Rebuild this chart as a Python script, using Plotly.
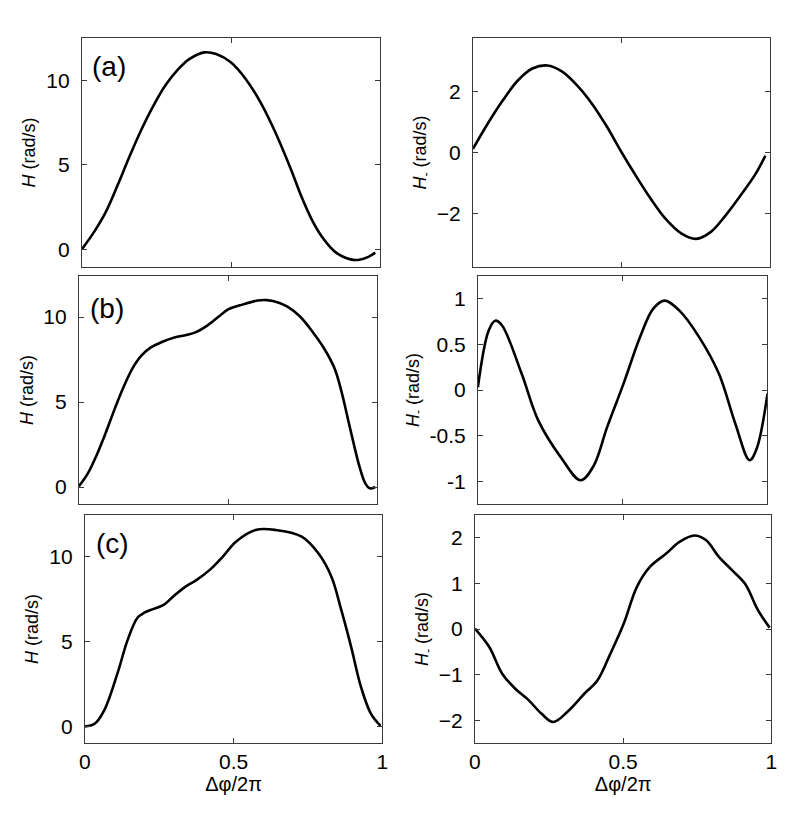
import plotly.graph_objects as go

# ---------------- data ----------------
# Panel (a) left: H
xa_H = [0.0, 0.04, 0.08, 0.12, 0.16, 0.2, 0.24, 0.28, 0.32, 0.36, 0.41, 0.45, 0.5, 0.55, 0.6, 0.65, 0.7, 0.736, 0.769, 0.802, 0.846, 0.87, 0.9, 0.93, 0.96, 0.983]
ya_H = [0.0, 1.0, 2.2, 3.8, 5.5, 7.1, 8.5, 9.7, 10.6, 11.25, 11.65, 11.55, 11.05, 10.05, 8.65, 6.85, 4.75, 3.1, 1.8, 0.8, -0.12, -0.4, -0.6, -0.62, -0.45, -0.2]
# Panel (a) right: H_
xa_Hm = [0.0, 0.05, 0.1, 0.15, 0.2, 0.25, 0.3, 0.35, 0.4, 0.45, 0.5, 0.55, 0.6, 0.65, 0.7, 0.75, 0.8, 0.85, 0.9, 0.95, 0.983]
ya_Hm = [0.12, 0.95, 1.7, 2.35, 2.75, 2.85, 2.65, 2.2, 1.6, 0.85, 0.0, -0.8, -1.55, -2.2, -2.65, -2.83, -2.6, -2.05, -1.4, -0.7, -0.1]
# Panel (b) left: H
xb_H = [0.0, 0.03, 0.06, 0.09, 0.12, 0.15, 0.18, 0.21, 0.24, 0.28, 0.32, 0.36, 0.39, 0.43, 0.47, 0.5, 0.55, 0.6, 0.63, 0.67, 0.7, 0.74, 0.78, 0.82, 0.856, 0.88, 0.9, 0.92, 0.94, 0.96, 0.975, 0.993]
yb_H = [0.04, 0.8, 1.9, 3.2, 4.6, 5.9, 7.0, 7.75, 8.2, 8.55, 8.8, 8.95, 9.1, 9.5, 10.05, 10.45, 10.75, 10.98, 11.0, 10.85, 10.6, 10.05, 9.2, 8.2, 7.0, 5.6, 4.1, 2.6, 1.2, 0.2, -0.08, 0.0]
# Panel (b) right: H_
xb_Hm = [0.0, 0.037, 0.06, 0.083, 0.151, 0.208, 0.287, 0.355, 0.4, 0.446, 0.503, 0.56, 0.605, 0.645, 0.696, 0.764, 0.832, 0.889, 0.938, 0.963, 1.0]
yb_Hm = [0.03, 0.65, 0.76, 0.71, 0.18, -0.33, -0.74, -0.99, -0.83, -0.41, 0.07, 0.58, 0.89, 0.98, 0.87, 0.58, 0.18, -0.37, -0.77, -0.64, -0.04]
# Panel (c) left: H
xc_H = [0.0, 0.033, 0.066, 0.11, 0.144, 0.177, 0.2, 0.221, 0.265, 0.3, 0.34, 0.376, 0.42, 0.464, 0.508, 0.574, 0.641, 0.729, 0.785, 0.829, 0.862, 0.895, 0.928, 0.961, 0.994]
yc_H = [0.0, 0.16, 0.98, 3.14, 5.1, 6.4, 6.7, 6.86, 7.16, 7.7, 8.25, 8.63, 9.22, 10.0, 10.88, 11.57, 11.57, 11.18, 10.2, 8.82, 6.86, 4.7, 2.35, 0.78, 0.04]
# Panel (c) right: H_
xc_Hm = [0.0, 0.048, 0.092, 0.136, 0.181, 0.225, 0.264, 0.313, 0.369, 0.413, 0.457, 0.502, 0.546, 0.59, 0.646, 0.69, 0.74, 0.779, 0.823, 0.867, 0.911, 0.955, 0.994]
yc_Hm = [0.01, -0.39, -0.98, -1.31, -1.56, -1.86, -2.04, -1.81, -1.42, -1.13, -0.54, 0.12, 0.92, 1.36, 1.66, 1.91, 2.05, 1.95, 1.58, 1.29, 0.99, 0.41, 0.03]

x_ticks = [0, 0.5, 1]
x_ticklabels = ["0", "0.5", "1"]
H_ticks = [0, 5, 10]
Hm_ticks_a = [-2, 0, 2]
Hm_ticks_b = [-1, -0.5, 0, 0.5, 1]
Hm_ticklabels_b = ["-1", "-0.5", "0", "0.5", "1"]
Hm_ticks_c = [-2, -1, 0, 1, 2]
panel_labels = ["(a)", "(b)", "(c)"]
ytitle_H = "<i>H</i> (rad/s)"
ytitle_Hm = "<i>H</i><sub>-</sub> (rad/s)"
xtitle = "Δφ/2π"

W, Hh = 806, 817
FONT = "Liberation Sans, Arial, Helvetica, sans-serif"
FRAME = "#3a3a3a"

def px_dom_x(a, b):
    return [a / W, b / W]

def px_dom_y(top, bottom):
    return [1 - bottom / Hh, 1 - top / Hh]

panels = [
    (xa_H, ya_H, px_dom_x(77, 380), px_dom_y(38, 267), [-1.05, 12.5], H_ticks, None, ytitle_H, False),
    (xa_Hm, ya_Hm, px_dom_x(474, 776), px_dom_y(38, 267), [-3.75, 3.75], Hm_ticks_a, None, ytitle_Hm, False),
    (xb_H, yb_H, px_dom_x(74, 377), px_dom_y(276, 504), [-1.0, 12.42], H_ticks, None, ytitle_H, False),
    (xb_Hm, yb_Hm, px_dom_x(479, 773), px_dom_y(276, 504), [-1.25, 1.25], Hm_ticks_b, Hm_ticklabels_b, ytitle_Hm, False),
    (xc_H, yc_H, px_dom_x(80, 382), px_dom_y(515, 743), [-0.97, 12.45], H_ticks, None, ytitle_H, True),
    (xc_Hm, yc_Hm, px_dom_x(476, 777), px_dom_y(515, 743), [-2.5, 2.5], Hm_ticks_c, None, ytitle_Hm, True),
]

fig = go.Figure()
layout = dict(
    width=W, height=Hh,
    margin=dict(l=0, r=0, t=0, b=0),
    paper_bgcolor="white", plot_bgcolor="white",
    showlegend=False,
    font=dict(family=FONT, size=18, color="black"),
)
annotations = []
for i, (xs, ys, xd, yd, yr, yt, ytl, ytitle, showx) in enumerate(panels, start=1):
    xn = "x" if i == 1 else f"x{i}"
    yn = "y" if i == 1 else f"y{i}"
    fig.add_trace(go.Scatter(x=xs, y=ys, mode="lines", xaxis=xn, yaxis=yn,
                             line=dict(color="black", width=2.6, shape="spline", smoothing=1.0),
                             hoverinfo="skip"))
    xkey = "xaxis" if i == 1 else f"xaxis{i}"
    ykey = "yaxis" if i == 1 else f"yaxis{i}"
    xa = dict(domain=xd, anchor=yn, range=[0, 1], tickvals=x_ticks, ticktext=x_ticklabels,
              ticks="inside", ticklen=5, tickcolor=FRAME, tickwidth=1,
              showline=True, linecolor=FRAME, linewidth=1, mirror="ticks",
              showgrid=False, zeroline=False, showticklabels=showx,
              tickfont=dict(size=21), ticklabelstandoff=0)
    if showx:
        xa["title"] = dict(text=xtitle, font=dict(size=20), standoff=0)
    ya = dict(domain=yd, anchor=xn, range=yr, tickvals=yt,
              ticks="inside", ticklen=5, tickcolor=FRAME, tickwidth=1,
              showline=True, linecolor=FRAME, linewidth=1, mirror="ticks",
              showgrid=False, zeroline=False, tickfont=dict(size=21),
              ticklabelstandoff=7,
              title=dict(text=ytitle, font=dict(size=18), standoff=5))
    if ytl is not None:
        ya["ticktext"] = ytl
    layout[xkey] = xa
    layout[ykey] = ya

label_pos = {1: (0.028, 0.876), 3: (0.032, 0.858), 5: (0.03, 0.876)}
for (idx, (lx, ly)), lab in zip(label_pos.items(), panel_labels):
    xn = "x" if idx == 1 else f"x{idx}"
    yn = "y" if idx == 1 else f"y{idx}"
    annotations.append(dict(text=lab, x=lx, y=ly, xref=f"{xn} domain", yref=f"{yn} domain",
                            xanchor="left", yanchor="middle", showarrow=False,
                            font=dict(size=28, family=FONT, color="black")))
layout["annotations"] = annotations
fig.update_layout(**layout)
fig.write_html("out.html")
